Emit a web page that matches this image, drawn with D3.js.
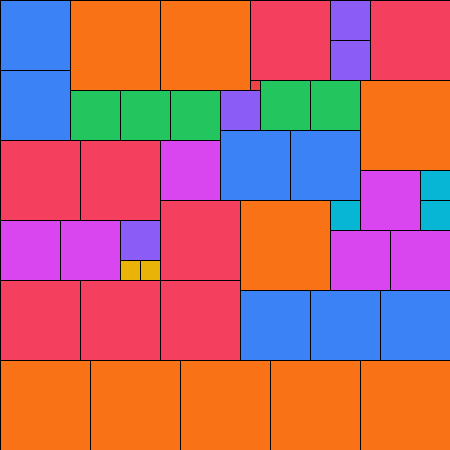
<!DOCTYPE html>
<html>
<head>
<meta charset="utf-8">
<script src="https://cdn.jsdelivr.net/npm/d3@7"></script>
<style>
  html, body { margin: 0; padding: 0; background: #fff; }
  svg { display: block; }
</style>
</head>
<body>
<div id="chart"></div>
<script>
// Square sizes (grid units) and the colour of each size.
const sizes = [1, 2, 3, 4, 5, 6, 7, 8, 9];
const colors = ["#ef4444", "#eab308", "#06b6d4", "#8b5cf6", "#22c55e",
                "#d946ef", "#3b82f6", "#f43f5e", "#f97316"];

// Placement of every square: [column, row, size] on a 45 x 45 grid.
const pieces = [
    [0, 0, 7], [0, 7, 7], [7, 0, 9], [16, 0, 9], [25, 0, 8],
    [33, 0, 4], [33, 4, 4], [37, 0, 8], [25, 8, 1],
    [7, 9, 5], [12, 9, 5], [17, 9, 5], [22, 9, 4],
    [26, 8, 5], [31, 8, 5], [36, 8, 9],
    [22, 13, 7], [29, 13, 7],
    [0, 14, 8], [8, 14, 8], [16, 14, 6], [16, 20, 8],
    [0, 22, 6], [6, 22, 6], [12, 22, 4], [12, 26, 2], [14, 26, 2],
    [24, 20, 9], [33, 20, 3], [36, 17, 6], [42, 17, 3], [42, 20, 3],
    [33, 23, 6], [39, 23, 6],
    [0, 28, 8], [8, 28, 8], [16, 28, 8],
    [24, 29, 7], [31, 29, 7], [38, 29, 7],
    [0, 36, 9], [9, 36, 9], [18, 36, 9], [27, 36, 9], [36, 36, 9]
];

const width = 450;
const height = 450;
const gridSize = 45;

const x = d3.scaleLinear().domain([0, gridSize]).range([0, width]);
const y = d3.scaleLinear().domain([0, gridSize]).range([0, height]);
const color = d3.scaleOrdinal().domain(sizes).range(colors);

const svg = d3.create("svg")
    .attr("width", width)
    .attr("height", height);

d3.select("#chart").append(() => svg.node());

const g = svg.append("g")
    .attr("transform", "translate(0.5,0.5)");

g.selectAll("rect")
    .data(pieces)
    .enter()
    .append("rect")
    .attr("x", d => x(d[0]))
    .attr("y", d => y(d[1]))
    .attr("width", d => x(d[2]) - x(0))
    .attr("height", d => y(d[2]) - y(0))
    .attr("fill", d => color(d[2]))
    .attr("stroke", "#000")
    .attr("stroke-width", 1)
    .attr("shape-rendering", "crispEdges");
</script>
</body>
</html>
